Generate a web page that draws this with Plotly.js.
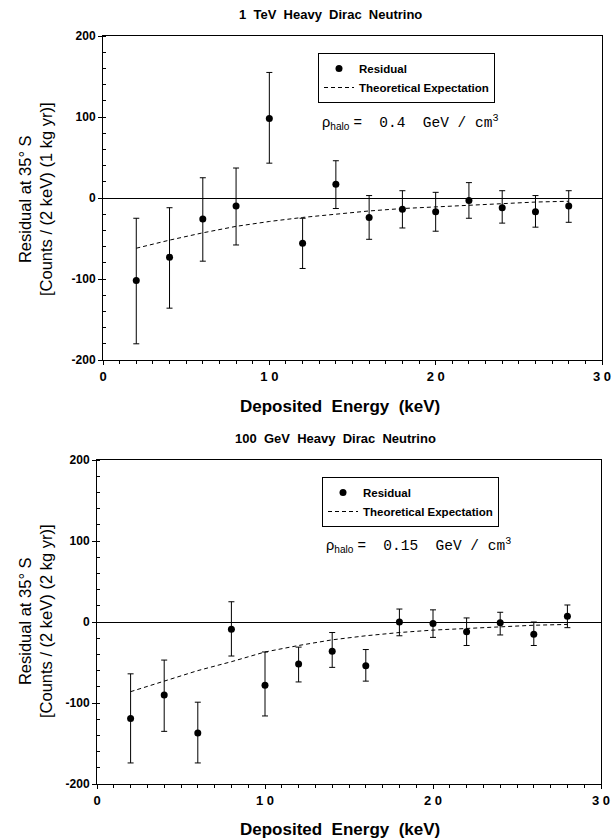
<!DOCTYPE html>
<html>
<head>
<meta charset="utf-8">
<script src="https://cdn.plot.ly/plotly-3.0.1.min.js"></script>
<style>html,body{margin:0;padding:0;background:#fff;}#plot{width:613px;height:839px;}</style>
</head>
<body>
<div id="plot"></div>
<script>
// Deposited energy bins (keV)
const energy = [2, 4, 6, 8, 10, 12, 14, 16, 18, 20, 22, 24, 26, 28];

// Top panel: 1 TeV Heavy Dirac Neutrino
const topResidual = [-102, -73, -26, -10, 98, -56, 17, -24, -14, -17, -3, -12, -17, -10];
const topErrHigh  = [-25, -12, 25, 37, 155, -25, 46, 3, 9, 7, 19, 9, 3, 9];
const topErrLow   = [-180, -136, -78, -58, 43, -87, -13, -51, -37, -41, -25, -31, -36, -30];
const topTheory   = [-62, -52, -43, -35, -29, -24, -20, -16, -13, -11, -9, -7, -5, -4];

// Bottom panel: 100 GeV Heavy Dirac Neutrino
const botResidual = [-119, -90, -137, -9, -78, -52, -36, -54, 0, -2, -12, -1, -15, 7];
const botErrHigh  = [-64, -47, -99, 25, -37, -31, -13, -34, 16, 15, 5, 12, 0, 21];
const botErrLow   = [-174, -135, -174, -42, -116, -74, -56, -73, -17, -19, -29, -16, -29, -7];
const botTheory   = [-86, -73, -60, -49, -37, -29, -22, -17, -13, -10, -8, -6, -4, -3];

// Tick labels
const xTickVals = [0, 10, 20, 30];
const xTickText = ['0', '1 0', '2 0', '3 0'];
const yTickVals = [-200, -100, 0, 100, 200];
const yTickText = ['-200', '-100', '0', '100', '200'];

const W = 613, H = 839;
const px = v => v / W;
const py = v => 1 - v / H;

function errs(vals, hi, lo) {
  return {
    type: 'data', symmetric: false,
    array: hi.map((h, i) => h - vals[i]),
    arrayminus: lo.map((l, i) => vals[i] - l),
    color: '#000', thickness: 1, width: 3
  };
}

const SANS = 'Liberation Sans, Arial, sans-serif';
const MONO = 'Liberation Mono, Courier New, monospace';

const traces = [
  {x: energy, y: topTheory, mode: 'lines', name: 'Theoretical Expectation',
   line: {color: '#000', width: 1, dash: '4px,3px'}, xaxis: 'x', yaxis: 'y', legend: 'legend', legendrank: 2},
  {x: energy, y: topResidual, mode: 'markers', name: 'Residual',
   marker: {color: '#000', size: 7}, error_y: errs(topResidual, topErrHigh, topErrLow),
   xaxis: 'x', yaxis: 'y', legend: 'legend', legendrank: 1},
  {x: energy, y: botTheory, mode: 'lines', name: 'Theoretical Expectation',
   line: {color: '#000', width: 1, dash: '4px,3px'}, xaxis: 'x2', yaxis: 'y2', legend: 'legend2', legendrank: 2},
  {x: energy, y: botResidual, mode: 'markers', name: 'Residual',
   marker: {color: '#000', size: 7}, error_y: errs(botResidual, botErrHigh, botErrLow),
   xaxis: 'x2', yaxis: 'y2', legend: 'legend2', legendrank: 1}
];

function xAxis(domain, anchor) {
  return {
    domain: domain, anchor: anchor, range: [0, 30],
    tickmode: 'array', tickvals: xTickVals, ticktext: xTickText,
    ticks: 'outside', ticklen: 4, tickcolor: '#000', tickwidth: 1,
    minor: {dtick: 1, ticks: 'outside', ticklen: 3, tickcolor: '#000'},
    showline: true, linecolor: '#000', linewidth: 1, mirror: true,
    showgrid: false, zeroline: false, automargin: false,
    tickfont: {family: SANS, size: 13, color: '#000', weight: 'bold'}
  };
}
function yAxis(domain, anchor) {
  return {
    domain: domain, anchor: anchor, range: [-200, 200],
    tickmode: 'array', tickvals: yTickVals, ticktext: yTickText,
    ticks: 'outside', ticklen: 4, tickcolor: '#000', tickwidth: 1,
    minor: {dtick: 20, ticks: 'inside', ticklen: 3, tickcolor: '#000'},
    showline: true, linecolor: '#000', linewidth: 1, mirror: true,
    showgrid: false, zeroline: true, zerolinecolor: '#000', zerolinewidth: 1,
    automargin: false,
    tickfont: {family: SANS, size: 12, color: '#000', weight: 'bold'}
  };
}

const legendBase = {
  xanchor: 'left', yanchor: 'top', bgcolor: '#fff',
  bordercolor: '#000', borderwidth: 1,
  font: {family: SANS, size: 11.5, color: '#000', weight: 'bold'},
  traceorder: 'normal', itemwidth: 30, entrywidth: 190
};

const annotations = [
  {text: '1  TeV  Heavy  Dirac  Neutrino', x: px(330), y: py(15),
   font: {family: SANS, size: 13, weight: 'bold'}},
  {text: '100  GeV  Heavy  Dirac  Neutrino', x: px(335), y: py(438),
   font: {family: SANS, size: 13, weight: 'bold'}},
  {text: 'Deposited  Energy  (keV)', x: px(340), y: py(407),
   font: {family: SANS, size: 17, weight: 'bold'}},
  {text: 'Deposited  Energy  (keV)', x: px(340), y: py(829),
   font: {family: SANS, size: 17, weight: 'bold'}},
  {text: 'Residual at 35° S<br>[Counts / (2 keV) (1 kg yr)]', x: px(35), y: py(200),
   textangle: -90, font: {family: SANS, size: 16.5}},
  {text: 'Residual at 35° S<br>[Counts / (2 keV) (2 kg yr)]', x: px(35), y: py(622),
   textangle: -90, font: {family: SANS, size: 16.5}},
  {text: '<span style="font-family:Liberation Sans">ρ<sub>halo</sub> =</span>  0.4  GeV / cm<sup>3</sup>',
   x: px(320), y: py(122), xanchor: 'left', font: {family: MONO, size: 14.5}},
  {text: '<span style="font-family:Liberation Sans">ρ<sub>halo</sub> =</span>  0.15  GeV / cm<sup>3</sup>',
   x: px(324), y: py(545), xanchor: 'left', font: {family: MONO, size: 14.5}}
].map(a => Object.assign({xref: 'paper', yref: 'paper', showarrow: false,
  xanchor: 'center', yanchor: 'middle'}, a, {font: Object.assign({color: '#000'}, a.font)}));

const layout = {
  width: W, height: H,
  margin: {l: 0, r: 0, t: 0, b: 0},
  paper_bgcolor: '#fff', plot_bgcolor: '#fff',
  showlegend: true,
  xaxis: xAxis([px(103), px(602)], 'y'),
  yaxis: yAxis([py(360), py(36)], 'x'),
  xaxis2: xAxis([px(97), px(601)], 'y2'),
  yaxis2: yAxis([py(784), py(460)], 'x2'),
  legend: Object.assign({x: px(318), y: py(53)}, legendBase),
  legend2: Object.assign({x: px(322), y: py(477)}, legendBase),
  annotations: annotations
};

Plotly.newPlot('plot', traces, layout, {displayModeBar: false, staticPlot: true});
</script>
</body>
</html>
